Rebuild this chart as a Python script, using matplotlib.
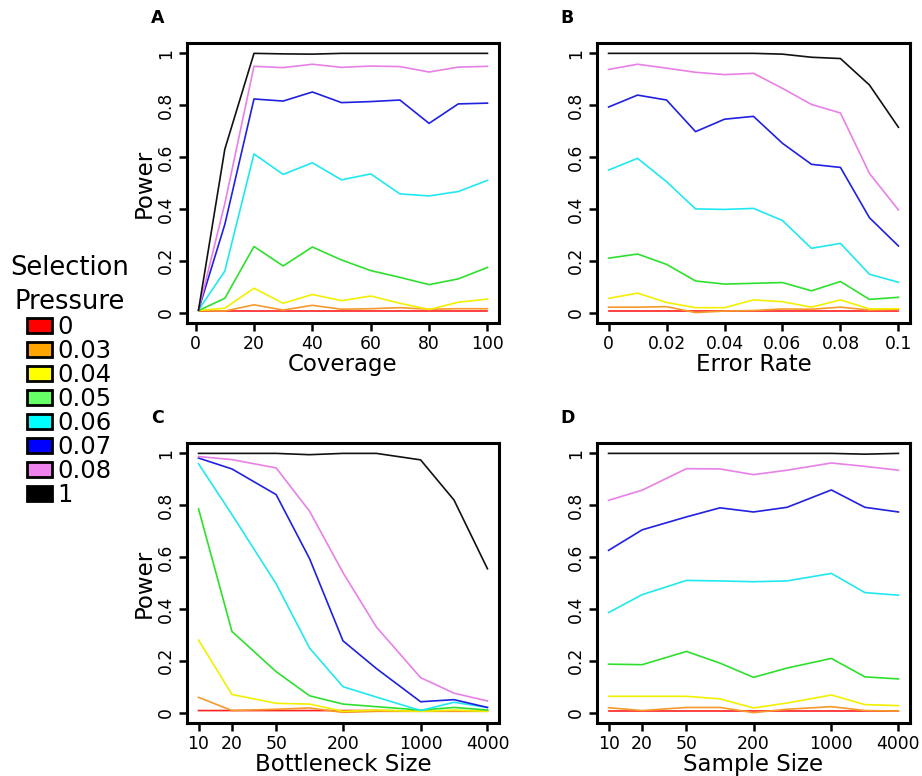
"""Power vs coverage / error rate / bottleneck size / sample size, one line per
selection pressure (4-panel figure, shared legend on the left)."""

import matplotlib
matplotlib.use("Agg")
import matplotlib.pyplot as plt
from matplotlib.patches import Patch

PRESSURES = ["0", "0.03", "0.04", "0.05", "0.06", "0.07", "0.08", "1"]
LINE_COLORS = ["#ff2020", "#f59a2c", "#f2f000", "#2ee02e", "#20e8f0", "#2020e0", "#e880e8", "#111111"]
PATCH_COLORS = ["#ff0000", "#ffa500", "#ffff00", "#66ff66", "#00ffff", "#0000ff", "#ee82ee", "#000000"]

# panel A: coverage
coverage = [1, 10, 20, 30, 40, 50, 60, 70, 80, 90, 100]
power_cov = [
    [0.005, 0.005, 0.005, 0.005, 0.005, 0.005, 0.005, 0.005, 0.005, 0.005, 0.005],
    [0.008, 0.006, 0.030, 0.010, 0.028, 0.013, 0.015, 0.019, 0.013, 0.015, 0.015],
    [0.008, 0.017, 0.094, 0.036, 0.070, 0.046, 0.064, 0.036, 0.012, 0.040, 0.052],
    [0.008, 0.055, 0.255, 0.180, 0.253, 0.203, 0.162, 0.136, 0.108, 0.130, 0.174],
    [0.010, 0.160, 0.612, 0.533, 0.578, 0.512, 0.535, 0.458, 0.450, 0.467, 0.510],
    [0.010, 0.340, 0.824, 0.816, 0.851, 0.810, 0.814, 0.820, 0.730, 0.805, 0.808],
    [0.010, 0.420, 0.950, 0.945, 0.958, 0.946, 0.951, 0.949, 0.928, 0.947, 0.950],
    [0.010, 0.630, 1.000, 0.998, 0.997, 1.000, 1.000, 1.000, 1.000, 1.000, 1.000],
]

# panel B: error rate
error_rate = [0.0, 0.01, 0.02, 0.03, 0.04, 0.05, 0.06, 0.07, 0.08, 0.09, 0.1]
power_err = [
    [0.005, 0.005, 0.005, 0.005, 0.005, 0.005, 0.005, 0.005, 0.005, 0.005, 0.005],
    [0.021, 0.021, 0.023, 0.000, 0.006, 0.008, 0.014, 0.013, 0.021, 0.010, 0.013],
    [0.055, 0.075, 0.039, 0.019, 0.019, 0.049, 0.042, 0.021, 0.049, 0.014, 0.015],
    [0.210, 0.226, 0.186, 0.122, 0.110, 0.113, 0.116, 0.084, 0.120, 0.051, 0.059],
    [0.550, 0.595, 0.505, 0.400, 0.398, 0.402, 0.355, 0.248, 0.267, 0.148, 0.117],
    [0.793, 0.839, 0.820, 0.698, 0.746, 0.757, 0.653, 0.572, 0.560, 0.366, 0.257],
    [0.938, 0.958, 0.943, 0.927, 0.918, 0.923, 0.865, 0.803, 0.770, 0.537, 0.396],
    [1.000, 1.000, 1.000, 1.000, 1.000, 1.000, 0.997, 0.985, 0.980, 0.878, 0.715],
]

# panels C and D share the size grid (log axis)
sizes = [10, 20, 50, 100, 200, 400, 1000, 2000, 4000]
power_bottleneck = [
    [0.008, 0.008, 0.008, 0.008, 0.008, 0.008, 0.006, 0.006, 0.006],
    [0.059, 0.008, 0.013, 0.018, 0.001, 0.005, 0.005, 0.005, 0.005],
    [0.280, 0.070, 0.036, 0.033, 0.005, 0.010, 0.005, 0.010, 0.005],
    [0.786, 0.313, 0.158, 0.065, 0.033, 0.023, 0.010, 0.020, 0.010],
    [0.960, 0.764, 0.497, 0.249, 0.100, 0.060, 0.008, 0.040, 0.020],
    [0.982, 0.940, 0.841, 0.594, 0.277, 0.170, 0.042, 0.050, 0.020],
    [0.988, 0.976, 0.944, 0.777, 0.540, 0.330, 0.135, 0.075, 0.045],
    [1.000, 1.000, 1.000, 0.995, 1.000, 1.000, 0.975, 0.820, 0.555],
]
power_sample = [
    [0.006, 0.006, 0.006, 0.006, 0.006, 0.006, 0.006, 0.006, 0.006],
    [0.019, 0.008, 0.020, 0.020, 0.000, 0.013, 0.023, 0.008, 0.006],
    [0.063, 0.063, 0.063, 0.053, 0.018, 0.037, 0.068, 0.031, 0.027],
    [0.187, 0.185, 0.236, 0.191, 0.136, 0.172, 0.209, 0.138, 0.130],
    [0.386, 0.455, 0.510, 0.508, 0.505, 0.508, 0.537, 0.463, 0.453],
    [0.626, 0.705, 0.755, 0.790, 0.774, 0.792, 0.859, 0.792, 0.774],
    [0.819, 0.858, 0.941, 0.940, 0.918, 0.935, 0.963, 0.950, 0.935],
    [1.000, 1.000, 1.000, 1.000, 1.000, 1.000, 1.000, 0.997, 1.000],
]

TICK_FS = 12.4
LABEL_FS = 16.5


def _draw_panel(ax, xs, series, letter, xlabel, ylabel, log=False):
    for ys, color in zip(series, LINE_COLORS):
        ax.plot(xs, ys, color=color, lw=1.2)
    # R-style 4% padding around the data range
    if log:
        ax.set_xscale("log")
        ax.set_xlim(10 ** 0.896, 10 ** 3.706)
        ticks = [10, 20, 50, 200, 1000, 4000]
        ax.set_xticks(ticks)
        ax.set_xticklabels([str(t) for t in ticks])
        ax.minorticks_off()
    else:
        span = xs[-1] - xs[0]
        ax.set_xlim(xs[0] - 0.04 * span, xs[-1] + 0.04 * span)
    ax.set_ylim(-0.04, 1.04)
    ax.set_yticks([0, 0.2, 0.4, 0.6, 0.8, 1.0])
    ax.set_yticklabels(["0", "0.2", "0.4", "0.6", "0.8", "1"])
    plt.setp(ax.get_yticklabels(), rotation=90, va="center")
    ax.tick_params(direction="out", length=5.5, width=1.8, labelsize=TICK_FS, pad=3)
    for sp in ax.spines.values():
        sp.set_linewidth(2.2)
    ax.set_xlabel(xlabel, fontsize=LABEL_FS, labelpad=0)
    if ylabel:
        ax.set_ylabel(ylabel, fontsize=LABEL_FS, labelpad=1)
    ax.text(-0.095, 1.09, letter, transform=ax.transAxes, fontsize=12.5,
            fontweight="bold", ha="center", va="center")


fig = plt.figure(figsize=(9.22, 7.76), dpi=100)
ax_a = fig.add_axes([0.2028, 0.5838, 0.3384, 0.3608])
ax_b = fig.add_axes([0.6475, 0.5838, 0.3395, 0.3608])
ax_c = fig.add_axes([0.2028, 0.0683, 0.3384, 0.3608])
ax_d = fig.add_axes([0.6475, 0.0683, 0.3395, 0.3608])

_draw_panel(ax_a, coverage, power_cov, "A", "Coverage", "Power")
ax_a.set_xticks([0, 20, 40, 60, 80, 100])
_draw_panel(ax_b, error_rate, power_err, "B", "Error Rate", None)
ax_b.set_xticks([0, 0.02, 0.04, 0.06, 0.08, 0.1])
ax_b.set_xticklabels(["0", "0.02", "0.04", "0.06", "0.08", "0.1"])
_draw_panel(ax_c, sizes, power_bottleneck, "C", "Bottleneck Size", "Power", log=True)
_draw_panel(ax_d, sizes, power_sample, "D", "Sample Size", None, log=True)

handles = [Patch(facecolor=c, edgecolor="black", linewidth=2) for c in PATCH_COLORS]
leg = fig.legend(handles, PRESSURES, title="Selection\nPressure", loc="upper left",
                 bbox_to_anchor=(-0.005, 0.69), frameon=False, fontsize=17.5,
                 title_fontsize=18.5, handlelength=1.05, handleheight=0.62,
                 handletextpad=0.22, labelspacing=0.0, borderaxespad=0.2)
leg.get_title().set_multialignment("center")
leg.get_title().set_linespacing(1.4)
leg._legend_box.align = "center"

fig.savefig("out.png", dpi=100)
